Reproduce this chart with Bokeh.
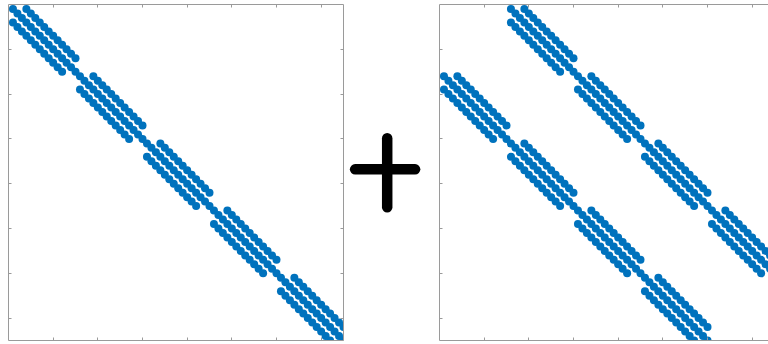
import numpy as np
from bokeh.plotting import figure
from bokeh.layouts import row
from bokeh.models import Range1d, LinearAxis, FixedTicker
from bokeh.embed import file_html
from bokeh.resources import INLINE

# Sparsity structure: 5 x 5 outer blocks, each made of 5 x 5 sub-blocks
# holding 3 unknowns per node (75 x 75 in total).
n_outer = 5
n_inner = 5
n_comp = 3
inner_couplings = [-1, 0, 1]      # tridiagonal coupling inside an outer block
left_couplings = [0]              # block-diagonal part of the operator
right_couplings = [-1, 1]         # off-diagonal block part of the operator
tick_values = [10, 20, 30, 40, 50, 60, 70]

n_total = n_outer * n_inner * n_comp
DOT_COLOR = "#0072BD"
AXIS_COLOR = "#9a9a9a"
FRAME_PX = 335                    # frame size (pixels) spanning n_total units


def pattern(outer_offsets):
    rows, cols = [], []
    for I in range(n_outer):
        for dI in outer_offsets:
            J = I + dI
            if not 0 <= J < n_outer:
                continue
            for a in range(n_inner):
                for da in inner_couplings:
                    b = a + da
                    if not 0 <= b < n_inner:
                        continue
                    for c in range(n_comp):
                        rows.append(I * n_inner * n_comp + a * n_comp + c + 1)
                        cols.append(J * n_inner * n_comp + b * n_comp + c + 1)
    return rows, cols


def add_axis(p, side):
    ax = LinearAxis(ticker=FixedTicker(ticks=tick_values),
                    major_label_overrides={t: "" for t in tick_values},
                    major_label_standoff=0,
                    major_label_text_font_size="1px",
                    major_tick_in=3, major_tick_out=0,
                    minor_tick_line_color=None,
                    axis_line_color=AXIS_COLOR,
                    major_tick_line_color=AXIS_COLOR,
                    axis_line_width=1)
    p.add_layout(ax, side)


def spy_figure(width, left, right, frame_w, sides, outer_offsets):
    x_end = n_total * frame_w / FRAME_PX
    p = figure(width=width, height=344, output_backend="svg", toolbar_location=None,
               x_range=Range1d(0, x_end), y_range=Range1d(n_total, 0),
               x_axis_location=None, y_axis_location=None,
               min_border_left=left, min_border_right=right,
               min_border_top=4, min_border_bottom=4,
               outline_line_color=None, background_fill_color="white",
               border_fill_color="white")
    p.grid.visible = False
    for side in sides:
        add_axis(p, side)
    rows, cols = pattern(outer_offsets)
    p.scatter(x=cols, y=rows, size=8.0, fill_color=DOT_COLOR, line_color=None)
    return p


p_left = spy_figure(346, 8, 3, 335, ["left", "right", "above", "below"], left_couplings)

# plus sign between the two panels
p_plus = figure(width=84, height=344, output_backend="svg", toolbar_location=None,
                x_range=Range1d(0, 84), y_range=Range1d(344, 0),
                x_axis_location=None, y_axis_location=None,
                min_border_left=0, min_border_right=0, min_border_top=0, min_border_bottom=0,
                outline_line_color=None, border_fill_color="white")
p_plus.grid.visible = False
p_plus.segment(x0=[40.7, 8.6], y0=[137.0, 168.8], x1=[40.7, 68.6], y1=[207.5, 168.8],
               line_color="black", line_width=10.5, line_cap="round")

p_right = spy_figure(338, 9, 0, 329, ["left", "above", "below"], right_couplings)

layout = row(p_left, p_plus, p_right)
open("out.html", "w").write(file_html(layout, INLINE))
